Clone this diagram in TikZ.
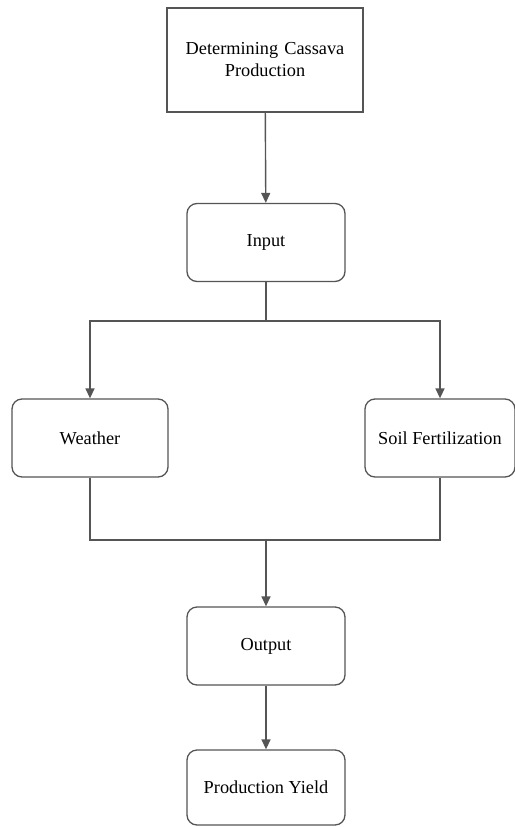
\documentclass[tikz,border=0pt]{standalone}
\usepackage{fontspec}
\setmainfont{Liberation Serif}
\usepackage{tikz}
\usetikzlibrary{arrows.meta}

\definecolor{linegray}{RGB}{85,85,85}

\tikzset{
  box/.style={draw=linegray, line width=1.3pt, rounded corners=10pt, fill=white,
    minimum width=158pt, minimum height=78pt, inner sep=2pt, align=center,
    font=\fontsize{18.3}{22}\selectfont},
  topbox/.style={box, rounded corners=0pt, line width=2.2pt,
    minimum width=196pt, minimum height=104pt, text width=190pt},
  link/.style={draw=linegray, line width=1.4pt},
  arr/.style={link, -{Triangle[length=10pt,width=9pt]}}
}

\begin{document}
\begin{tikzpicture}[x=1pt,y=-1pt]
  \useasboundingbox (0,0) rectangle (514,827);

  % Boxes
  \node[topbox] (determining) at (265,60) {Determining Cassava\\Production};
  \node[box] (input) at (266,242.5) {Input};
  \node[box, minimum width=156pt] (weather) at (90,438) {Weather};
  \node[box, minimum width=150pt] (soil) at (440,438) {Soil Fertilization};
  \node[box] (output) at (266,646) {Output};
  \node[box, minimum height=75pt] (yield) at (266,787.5) {Production Yield};

  % Branch and merge points
  \coordinate (split) at (266,321);
  \coordinate (merge) at (266,540);

  % Connectors
  \draw[arr] (determining) -- (input);
  \draw[link] (input) -- (split);
  \draw[arr] (split) -| (weather);
  \draw[arr] (split) -| (soil);
  \draw[link] (weather) |- (merge);
  \draw[link] (soil) |- (merge);
  \draw[arr] (merge) -- (output);
  \draw[arr] (output) -- (yield);
\end{tikzpicture}
\end{document}
